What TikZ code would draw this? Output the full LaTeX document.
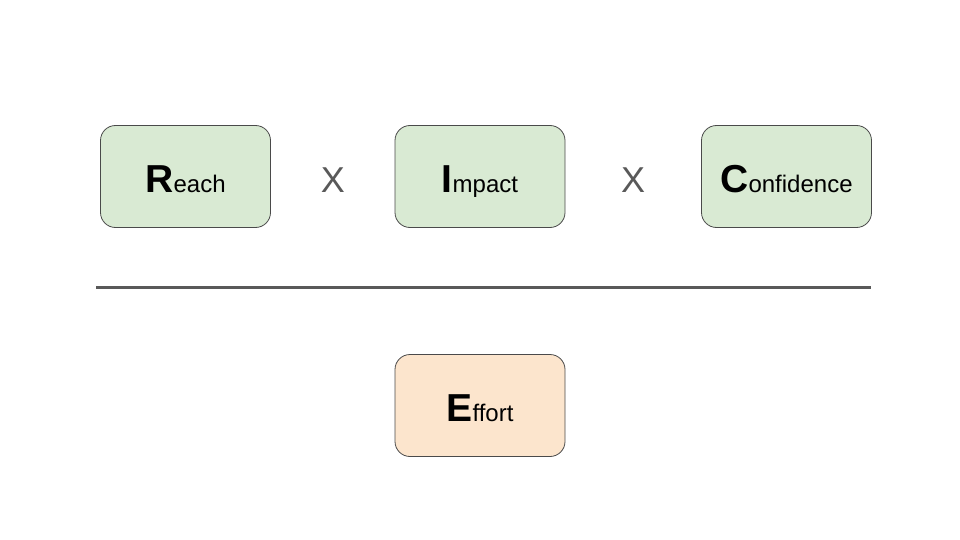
\documentclass[tikz,border=0pt]{standalone}
\usepackage{fontspec}
\setmainfont{Liberation Sans}
\usepackage{tikz}
\usetikzlibrary{positioning}

\definecolor{termgreen}{HTML}{D9EAD3}
\definecolor{termorange}{HTML}{FCE5CD}
\definecolor{termborder}{HTML}{4A4A4A}
\definecolor{opgray}{HTML}{595959}

\newcommand{\riceterm}[2]{{\fontsize{39}{39}\selectfont\bfseries #1}{\fontsize{24}{24}\selectfont #2}}

\tikzset{
    termbox/.style={draw=termborder, line width=0.8pt, rounded corners=15pt,
        minimum width=170pt, minimum height=102pt, inner sep=0pt, text=black,
        text height=31pt, text depth=0pt},
    opsign/.style={text=opgray, font=\fontsize{36}{36}\selectfont, inner sep=0pt}
}

\begin{document}
\begin{tikzpicture}[x=1pt,y=-1pt]
        \useasboundingbox (0,0) rectangle (960,540);

        % Numerator
        \node [termbox, fill=termgreen] (reach) at (185.5,176.5) {\riceterm{R}{each}};
        \node [termbox, fill=termgreen] (impact) at (480,176.5) {\riceterm{I}{mpact}};
        \node [termbox, fill=termgreen] (confidence) at (786.5,176.5) {\riceterm{C}{onfidence}};
        \node [opsign] (times1) at (333,180) {X};
        \node [opsign] (times2) at (633,180) {X};

        % Fraction bar
        \coordinate (barleft) at (96,287.5);
        \coordinate (barright) at (871,287.5);
        \draw [opgray, line width=3.5pt] (barleft) -- (barright);

        % Denominator
        \node [termbox, fill=termorange] (effort) at (480,405.5) {\riceterm{E}{ffort}};

    \end{tikzpicture}
\end{document}
